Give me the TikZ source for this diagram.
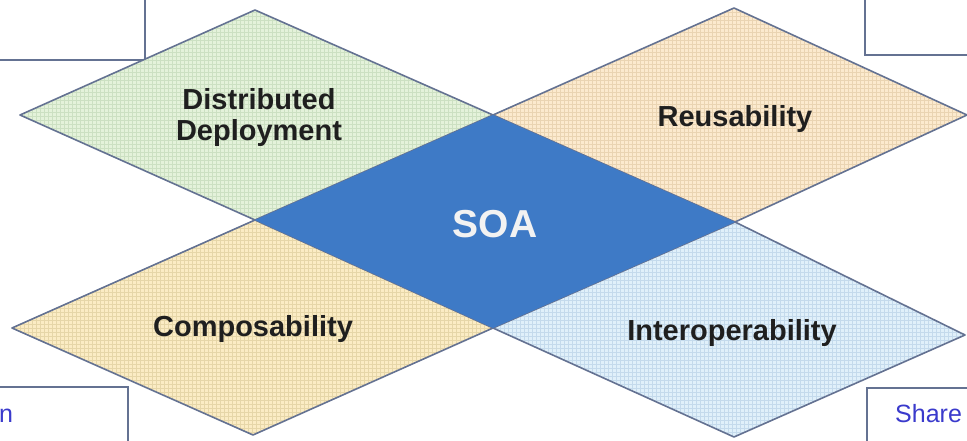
\documentclass[tikz,border=0pt]{standalone}
\usepackage{fontspec}
\setmainfont{Liberation Sans}
\definecolor{edgec}{RGB}{100,114,146}
\definecolor{tlfill}{RGB}{228,242,218}
\definecolor{tlgrid}{RGB}{204,224,194}
\definecolor{trfill}{RGB}{252,234,206}
\definecolor{trgrid}{RGB}{234,212,178}
\definecolor{blfill}{RGB}{251,236,196}
\definecolor{blgrid}{RGB}{230,214,168}
\definecolor{brfill}{RGB}{224,240,250}
\definecolor{brgrid}{RGB}{196,218,236}
\definecolor{soafill}{RGB}{62,122,198}
\definecolor{boxtext}{RGB}{58,58,204}
\tikzset{
  petal/.style={draw=edgec, line width=1.6pt, line join=round},
  lbl/.style={font=\fontsize{29}{32}\selectfont\bfseries, text=black!88, align=center, inner sep=0pt},
  soalbl/.style={font=\fontsize{39}{42}\selectfont\bfseries, text=white!95!black, inner sep=0pt},
  cornerbox/.style={draw=edgec, line width=1.3pt, fill=white},
  boxlbl/.style={font=\fontsize{25}{28}\selectfont, text=boxtext, inner sep=0pt},
  gridlines/.style={line width=0.45pt}
}
\begin{document}
\begin{tikzpicture}[x=1pt,y=-1pt]
\useasboundingbox (0,0) rectangle (967,441);
\clip (0,0) rectangle (967,441);
\fill[white] (0,0) rectangle (967,441);
% corner boxes
\draw[cornerbox] (-10,-10) rectangle (145,60);
\draw[cornerbox] (865,-10) rectangle (980,55);
\draw[cornerbox] (-10,387) rectangle (128,460);
\draw[cornerbox] (867,388) rectangle (980,460);
\node[boxlbl, anchor=base west] (nlbl) at (-1,422) {n};
\node[boxlbl, anchor=base west] (share) at (895,422) {Share};
% top-left petal
\begin{scope}
\clip (20,115) -- (255,10) -- (493,115) -- (255,220) -- cycle;
\fill[tlfill] (0,0) rectangle (500,230);
\draw[tlgrid, gridlines, step=4pt] (0,0) grid (500,230);
\end{scope}
\draw[petal] (20,115) -- (255,10) -- (493,115) -- (255,220) -- cycle;
% top-right petal
\begin{scope}
\clip (493,115) -- (734,8) -- (967,115) -- (735,222) -- cycle;
\fill[trfill] (480,0) rectangle (970,230);
\draw[trgrid, gridlines, step=4pt] (480,0) grid (970,230);
\end{scope}
\draw[petal] (493,115) -- (734,8) -- (967,115) -- (735,222) -- cycle;
% bottom-left petal
\begin{scope}
\clip (12,328) -- (255,220) -- (493,328) -- (253,435) -- cycle;
\fill[blfill] (0,210) rectangle (500,441);
\draw[blgrid, gridlines, step=4pt] (0,210) grid (500,441);
\end{scope}
\draw[petal] (12,328) -- (255,220) -- (493,328) -- (253,435) -- cycle;
% bottom-right petal
\begin{scope}
\clip (493,328) -- (735,222) -- (965,335) -- (734,437) -- cycle;
\fill[brfill] (480,210) rectangle (970,441);
\draw[brgrid, gridlines, step=4pt] (480,210) grid (970,441);
\end{scope}
\draw[petal] (493,328) -- (735,222) -- (965,335) -- (734,437) -- cycle;
% centre
\fill[soafill] (255,220) -- (493,115) -- (735,222) -- (493,328) -- cycle;
% labels
\node[lbl] (dd) at (259,118) {Distributed\\[-1pt]Deployment};
\node[lbl] (reuse) at (735,119) {Reusability};
\node[lbl] (comp) at (253,329) {Composability};
\node[lbl] (inter) at (732,333) {Interoperability};
\node[soalbl] (soa) at (495,224) {SOA};
\end{tikzpicture}
\end{document}
